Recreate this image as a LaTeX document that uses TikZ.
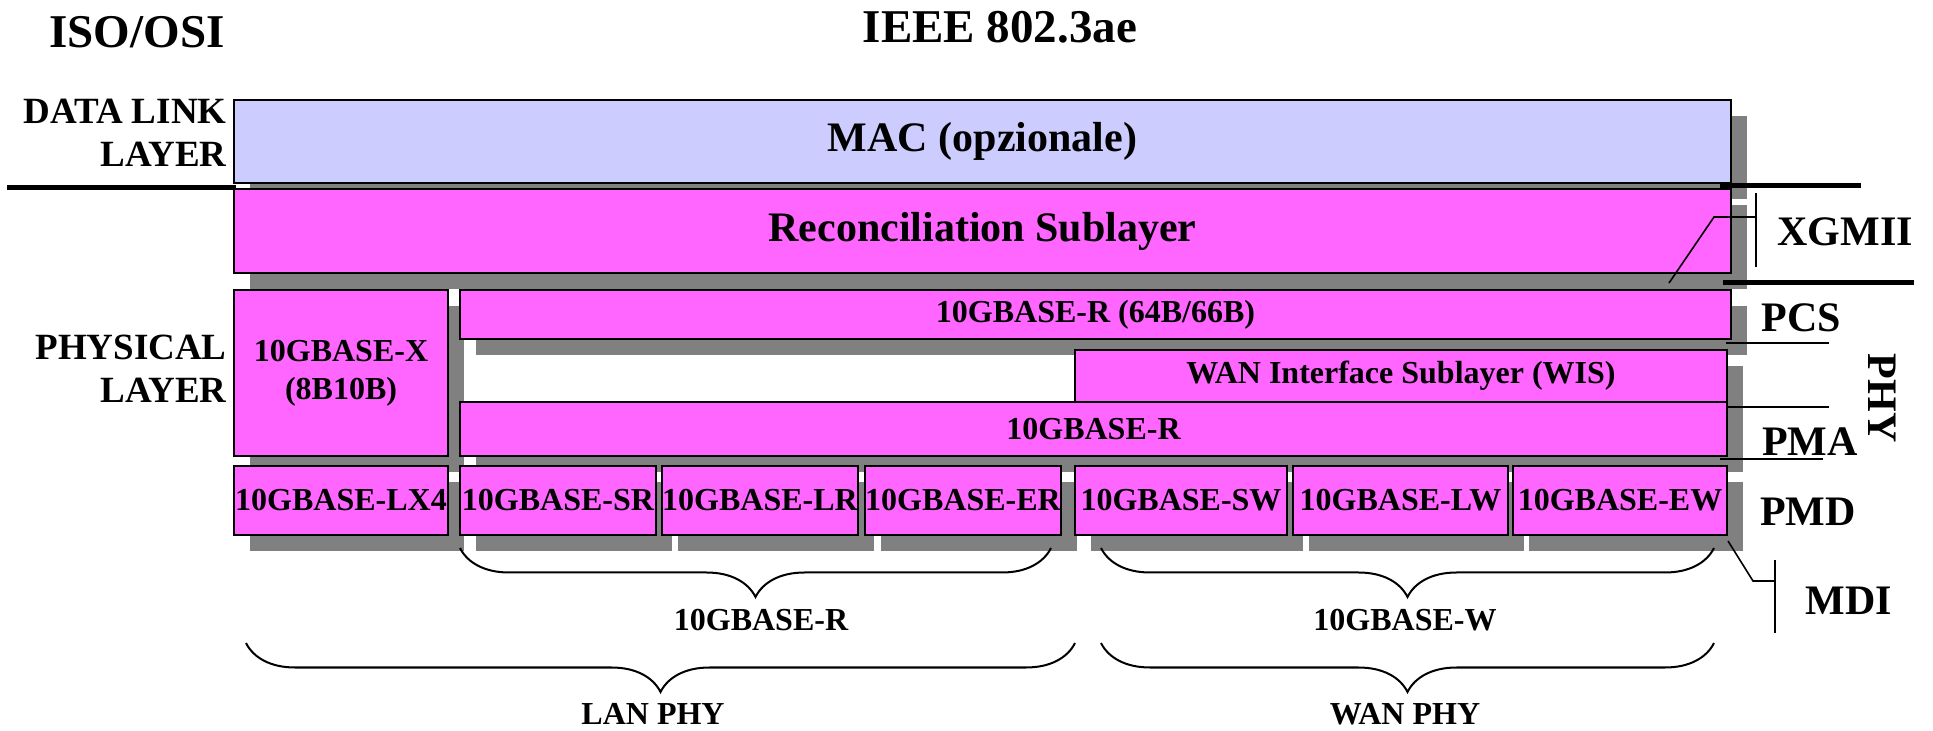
\documentclass[tikz,border=0pt]{standalone}
\usepackage{fontspec}
\setmainfont{Liberation Serif}
\usetikzlibrary{shadows,decorations.pathreplacing}
\definecolor{macblue}{HTML}{CCCCFF}
\definecolor{phypink}{HTML}{FF66FF}
\definecolor{shadowgray}{HTML}{808080}

\begin{document}
\begin{tikzpicture}[x=0.5pt,y=-0.5pt,
  box/.style={draw, line width=1.2pt, fill=phypink, inner sep=0pt, align=center,
    font=\bfseries\fontsize{16}{19}\selectfont,
    drop shadow={shadow xshift=8pt, shadow yshift=-8pt, fill=shadowgray, opacity=1}},
  pmd/.style={box, minimum height=34.5pt},
  big/.style={font=\bfseries\fontsize{21}{25}\selectfont},
  title/.style={font=\bfseries\fontsize{23.5}{28}\selectfont},
  osi/.style={font=\bfseries\fontsize{18.5}{21.5}\selectfont, align=right, anchor=east, inner sep=0pt},
  sub/.style={font=\bfseries\fontsize{21}{25}\selectfont, inner sep=0pt},
  brlbl/.style={font=\bfseries\fontsize{16}{19}\selectfont, inner sep=0pt},
  sep/.style={line width=2.5pt},
  thin/.style={line width=0.8pt},
  brc/.style={decorate, decoration={brace, mirror, amplitude=24.5pt}, line width=1pt}]
\useasboundingbox (0,0) rectangle (1933,731);

% titles
\node[title] (iso) at (137,32) {ISO/OSI};
\node[title] (ieee) at (1000,27) {IEEE 802.3ae};
\node[osi] (dll) at (227,133) {DATA LINK\\LAYER};
\node[osi] (phl) at (227,369) {PHYSICAL\\LAYER};

% layers
\node[box, fill=macblue, big, minimum width=748.5pt, minimum height=41.5pt] (mac) at (982.5,141.5) {MAC (opzionale)};
\node[box, big, minimum width=748.5pt, minimum height=42pt] (rs) at (982.5,231) {Reconciliation Sublayer};
\node[box, minimum width=107pt, minimum height=83pt] (pcsx) at (341,373) {10GBASE-X\\(8B10B)};
\node[box, minimum width=635.5pt, minimum height=24.5pt] (pcsr) at (1095.5,314.5) {10GBASE-R (64B/66B)};
\node[box, minimum width=326pt, minimum height=26pt] (wis) at (1401,376) {WAN Interface Sublayer (WIS)};
\node[box, minimum width=633.5pt, minimum height=27pt] (pmar) at (1093.5,429) {10GBASE-R};

% PMD row
\node[pmd, minimum width=107pt] (lx4) at (341,500.5) {10GBASE-LX4};
\node[pmd, minimum width=98pt] (sr) at (558,500.5) {10GBASE-SR};
\node[pmd, minimum width=98pt] (lr) at (760,500.5) {10GBASE-LR};
\node[pmd, minimum width=98pt] (er) at (963,500.5) {10GBASE-ER};
\node[pmd, minimum width=106pt] (sw) at (1181,500.5) {10GBASE-SW};
\node[pmd, minimum width=107.5pt] (lw) at (1400.5,500.5) {10GBASE-LW};
\node[pmd, minimum width=107pt] (ew) at (1620,500.5) {10GBASE-EW};

% separators
\draw[sep] (7,188) -- (236,188);
\draw[sep] (1720,186) -- (1861,186);
\draw[sep] (1723,283) -- (1914,283);
\draw[thin] (1726,343) -- (1829,343);
\draw[thin] (1726,407) -- (1829,407);
\draw[thin] (1720,459) -- (1823,459);

% sublayer names
\node[sub] (xgmii) at (1845,232) {XGMII};
\node[sub] (pcs) at (1801,318) {PCS};
\node[sub, rotate=-90] (phy) at (1882,398) {PHY};
\node[sub] (pma) at (1810,442) {PMA};
\node[sub] (pmdl) at (1808,512) {PMD};
\node[sub] (mdi) at (1849,601) {MDI};

\coordinate (xa) at (1669,283);
\coordinate (xb) at (1714,217);
\coordinate (xc) at (1756,217);
\draw[thin] (xa) -- (xb) -- (xc);
\draw[thin] (1756,193) -- (1756,267);
\coordinate (ma) at (1728,541);
\coordinate (mb) at (1753,581);
\coordinate (mc) at (1775,581);
\draw[thin] (ma) -- (mb) -- (mc);
\draw[thin] (1775,560) -- (1775,633);

% braces
\coordinate (rl) at (460,548);
\coordinate (rr) at (1051,548);
\coordinate (wl) at (1101,548);
\coordinate (wr) at (1714,548);
\coordinate (ll) at (246,643);
\coordinate (lr2) at (1075,643);
\coordinate (nl) at (1101,643);
\coordinate (nr) at (1714,643);
\draw[brc] (rl) -- (rr);
\draw[brc] (wl) -- (wr);
\draw[brc] (ll) -- (lr2);
\draw[brc] (nl) -- (nr);
\node[brlbl] (rlbl) at (761,620) {10GBASE-R};
\node[brlbl] (wlbl) at (1405,620) {10GBASE-W};
\node[brlbl] (lan) at (653,714) {LAN PHY};
\node[brlbl] (wan) at (1405,714) {WAN PHY};
\end{tikzpicture}
\end{document}
